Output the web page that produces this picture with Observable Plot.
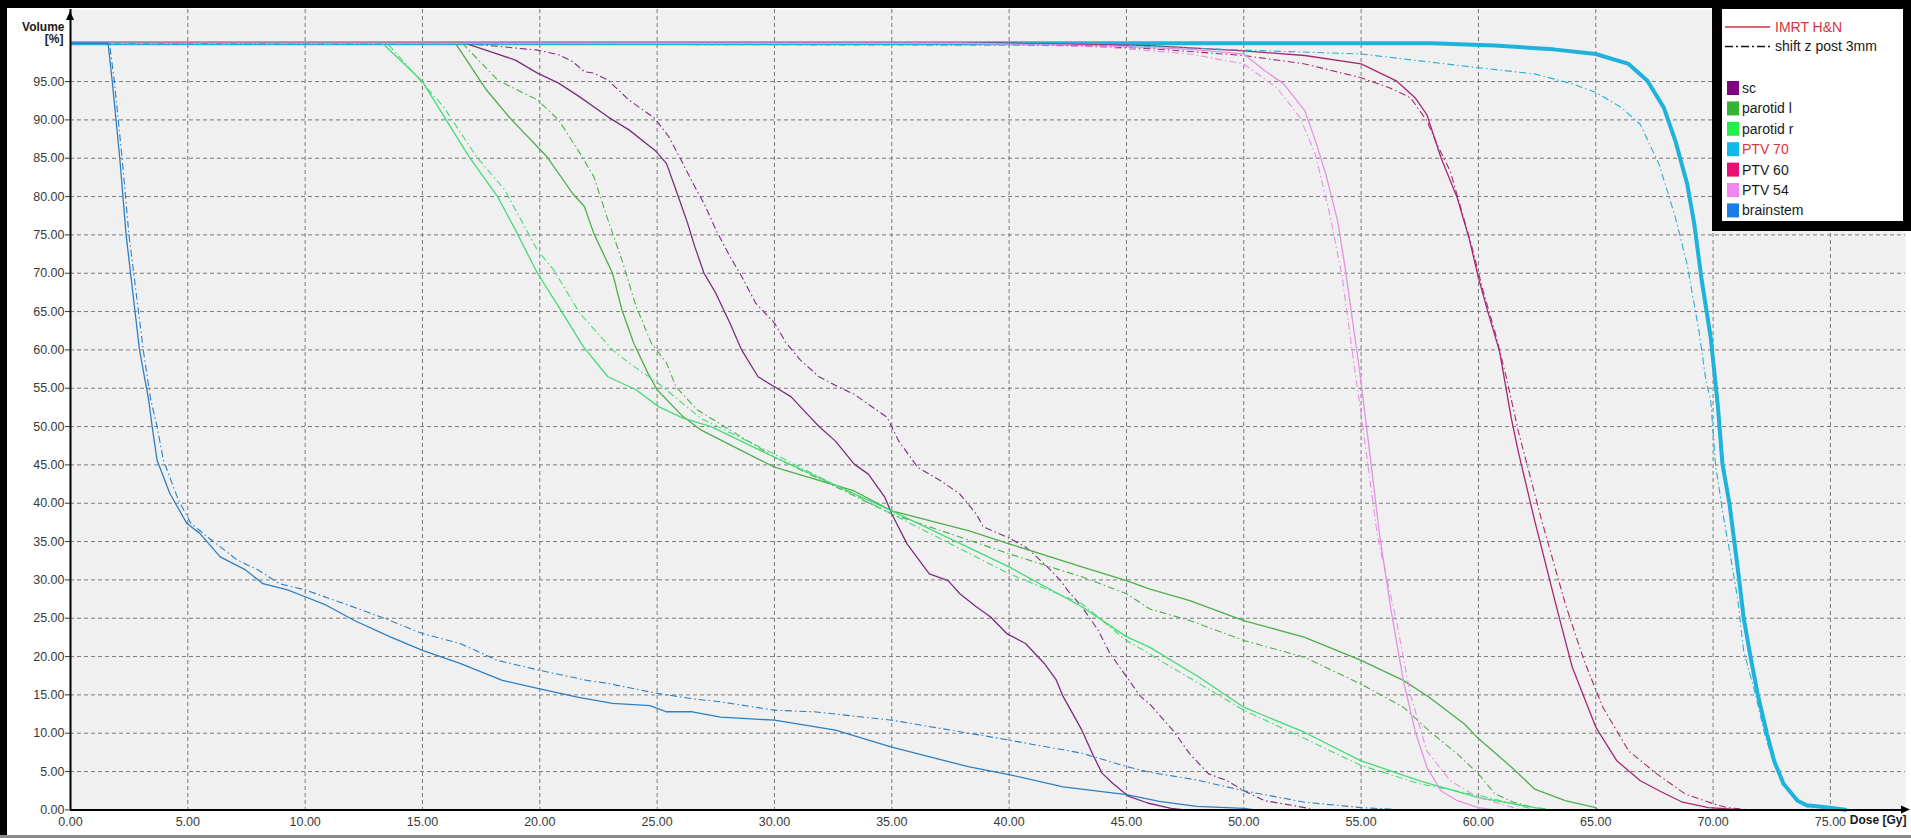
<!DOCTYPE html>
<html><head><meta charset="utf-8">
<script src="https://cdn.jsdelivr.net/npm/d3@7"></script>
<script src="https://cdn.jsdelivr.net/npm/@observablehq/plot@0.6"></script>
<style>
html,body{margin:0;padding:0;background:#fff;}
#chart{width:1911px;height:838px;overflow:hidden;position:relative;}
svg{display:block}
</style></head><body><div id="chart"></div>
<script>
// ---- tick values ----
const doseTicks = [0,5,10,15,20,25,30,35,40,45,50,55,60,65,70,75];
const volumeTicks = [0,5,10,15,20,25,30,35,40,45,50,55,60,65,70,75,80,85,90,95];
const gridDose = [5,10,15,20,25,30,35,40,45,50,55,60,65,70,75];
const gridVolume = [5,10,15,20,25,30,35,40,45,50,55,60,65,70,75,80,85,90,95];

// ---- legend ----
const plans = ["IMRT H&N", "shift z post 3mm"];
const structures = ["sc","parotid l","parotid r","PTV 70","PTV 60","PTV 54","brainstem"];
const legendColors = ["#800080","#33b533","#1ff04a","#12b9ec","#ec0f74","#f286f0","#1a7ce8"];
const lineColors = {"sc":"#7b2d80","parotid l":"#4daf4a","parotid r":"#45da78","PTV 70":"#1fb2dc","PTV 60":"#a8286e","PTV 54":"#e592e3","brainstem":"#2d7fc2"};

// ---- DVH curves [dose Gy, volume %] ----
const brainstem_imrt = [[0,100],[1.6,100],[1.78,95],[2.1,85],[2.37,75],[2.94,60],[3.33,53.5],[3.48,50],[3.69,45.6],[4.23,41.3],[4.95,37.4],[5.5,36.1],[6.38,33],[7.46,31.3],[8.2,29.5],[9.25,28.7],[10,27.8],[10.9,26.7],[12.1,24.7],[13.6,22.6],[15,20.8],[16.6,19.1],[18.4,16.9],[20,15.8],[21.6,14.7],[23.1,13.9],[24.7,13.6],[25.4,12.8],[26.5,12.8],[27.7,12.1],[30,11.7],[32.6,10.4],[35,8.2],[38.3,5.6],[40,4.6],[42.3,3.0],[45,2.0],[46.4,1.1],[48,0.45],[50,0.2],[50.5,0]];
const brainstem_shift = [[0,100],[1.66,100],[1.87,95],[2.2,85],[2.49,75],[3.1,60],[3.42,53.5],[3.69,50],[3.96,45.6],[4.6,40.4],[5.13,37.4],[5.84,35.6],[7.1,32.6],[8.0,31.3],[8.9,29.5],[10,28.7],[11.2,27.4],[13.2,25.2],[15,23],[16.6,21.7],[18.2,19.5],[20,18.2],[22,16.9],[22.9,16.5],[25,15.2],[26.5,14.5],[27.7,14.1],[30,13.0],[31.7,12.8],[35,11.7],[38.3,10.0],[40,9.1],[43.1,7.4],[45,5.65],[46,4.9],[48,3.9],[50,2.5],[52.6,1.0],[55,0.3],[56.8,0]];
const sc_imrt = [[0,100],[16.8,100],[17.7,99.1],[18.96,97.8],[19.9,96.1],[20.8,94.8],[21.7,93],[22.9,90.4],[23.8,88.7],[24.95,85.9],[25.4,84.3],[25.8,80.9],[26.3,76.5],[26.6,73.5],[27.0,70],[27.5,67.4],[28.1,63.5],[28.6,60],[29.3,56.5],[30,55.2],[30.7,53.9],[31.5,51.3],[31.9,50],[32.6,48.1],[33.4,45.1],[34.0,43.8],[34.7,40.8],[35.0,38.6],[35.65,34.7],[36.6,30.8],[37.4,29.9],[37.9,28.2],[38.6,26.5],[39.2,25.2],[39.9,23],[40.7,21.7],[41.5,19.1],[42.0,17],[42.3,14.8],[43.1,10.4],[43.6,7],[43.96,4.8],[44.4,3.5],[45.1,1.75],[45.9,0.9],[46.9,0.2],[47.5,0]];
const sc_shift = [[0,100],[16.8,100],[18.2,99.6],[19.9,99.1],[20.8,98.5],[21.4,97.6],[21.9,96.3],[22.3,96.1],[22.9,95.2],[23.8,92.6],[24.9,90.2],[25.5,87.8],[26.1,84.3],[26.6,81.3],[27.0,79.1],[27.5,75.7],[28.1,72.2],[28.6,69.6],[29.2,66.1],[30.0,63.5],[30.5,60.9],[31.1,58.7],[31.9,56.5],[32.7,55.2],[33.4,54.2],[34.8,51.2],[35.3,48.1],[36.1,44.7],[37.1,42.9],[37.9,41.2],[38.6,38.6],[38.9,36.9],[39.9,35.6],[40.7,34.3],[41.5,32.1],[42.2,29.9],[42.5,28.6],[43.1,26.5],[43.8,23.4],[44.3,20.4],[44.9,17.8],[45.6,14.8],[46,13.8],[47,10.3],[47.7,7.3],[48.5,4.7],[49.3,3.8],[50,2.5],[50.9,1.2],[52.6,0.3],[53,0]];
const parotidL_imrt = [[0,100],[16.4,100],[17.7,94],[18.8,90],[19.9,86.5],[20.3,85.2],[21.4,80.4],[21.9,78.7],[22.3,75.2],[23.1,70],[23.5,65.2],[24.0,60.9],[24.6,57],[25.0,54.8],[26.1,51.3],[26.9,49.5],[30,44.7],[33.4,41.6],[35,39],[38.3,36.4],[40,34.7],[43.1,31.7],[45,29.9],[46,28.8],[47.7,27.3],[50,24.7],[52.6,22.5],[55,19.5],[56.8,16.9],[57.9,14.7],[59.4,11.2],[60,9.3],[61.4,5.6],[62.4,2.7],[63.7,1.2],[65,0.3],[65.1,0]];
const parotidL_shift = [[0,100],[16.7,100],[18.2,95.2],[19.9,92.6],[20.8,90],[21.7,85.7],[22.3,82.6],[22.9,77],[23.5,71.7],[24.1,65.7],[24.75,60.9],[25.4,58.3],[25.8,55.2],[26.7,52.2],[30,46],[35,38.6],[40,33.4],[43.1,30.4],[45,28.2],[46,26.2],[47.7,24.7],[50,22.1],[52.6,19.9],[55,16.4],[56.8,13.4],[57.9,10.3],[59.1,7.3],[60,4.7],[60.7,2.1],[61.5,1.0],[62.4,0.3],[63.2,0]];
const parotidR_imrt = [[0,100],[13.3,100],[15,95],[16.98,85.2],[18.2,80],[18.96,75.65],[19.9,70],[20.8,65.65],[21.86,60.4],[22.9,56.5],[24.1,54.8],[25.06,52.6],[26.1,51.1],[27.3,50],[30,46],[35,39],[40,31.7],[43.1,26.5],[45,22.6],[46,21.2],[48,17.5],[50,13.4],[52.6,10.1],[55,6.4],[57.5,3.8],[60,1.6],[61.5,0.8],[62.4,0.3],[63,0]];
const parotidR_shift = [[0,100],[13.5,100],[15.9,91.7],[17.3,85.2],[18.5,80.9],[19.9,73],[20.6,70.4],[21.7,64.8],[23.1,60],[23.8,58.3],[25.06,55.6],[26.1,53],[26.9,51],[30,46.4],[35,38.6],[40,30.8],[43.1,26.9],[45,22.1],[46,20.3],[50,13],[52.6,9.3],[55,5.8],[57.5,3.4],[60,1.9],[61.5,0.8],[62.4,0]];
const ptv54_imrt = [[0,100],[38,100],[44,99.7],[47.7,99.2],[50,98.6],[50.9,96.4],[51.7,94.7],[52.6,91.2],[53.05,87.3],[53.5,82.9],[54.0,76.8],[54.3,71.1],[54.6,64.6],[54.9,58.1],[55.2,50.8],[55.8,35.6],[56.3,25.6],[56.8,16.9],[57.3,10.3],[57.8,5.6],[58.4,2.5],[59.1,1.2],[60,0.3],[60.7,0]];
const ptv54_shift = [[0,100],[38,100],[44,99.5],[47.7,98.6],[50,97.3],[51.4,94.2],[52.4,90.3],[53.05,85.5],[53.7,77.2],[54.2,69.4],[54.6,60.3],[55.1,49.4],[55.7,35.6],[56.5,24.7],[57.1,15.1],[57.8,7.7],[58.8,3.8],[60,1.6],[61.5,0.3],[62,0]];
const ptv60_imrt = [[0,100],[40,100],[46,99.7],[50,99],[52.6,98.4],[55,97.3],[56.5,95.1],[57.3,92.9],[57.8,90.7],[58.4,85.1],[59.1,79.8],[59.6,74.6],[60,69.4],[60.4,65],[60.9,59.8],[61.4,51.1],[61.7,46.7],[62.4,37.7],[63.4,25.6],[64.0,18.6],[65,10.8],[65.9,6.4],[66.9,3.8],[67.7,2.5],[68.7,1.0],[69.8,0.3],[71.3,0]];
const ptv60_shift = [[0,100],[40,100],[46,99.3],[50,98.4],[52.6,97.3],[55,95.5],[56.2,94.2],[57.1,92.9],[57.8,89.9],[58.3,86.4],[58.8,83.3],[59.25,78.5],[59.7,73.7],[60.2,67.7],[60.7,62.4],[61.2,56.3],[61.7,49.4],[62.7,37.7],[63.7,26.9],[64.5,19.5],[65.3,13.4],[66.4,7.7],[67.6,4.7],[68.8,2.1],[70,0.8],[70.6,0.3],[71.6,0]];
const ptv70_imrt = [[0,100],[58,100],[60.7,99.7],[63.2,99.2],[65,98.6],[66.4,97.3],[67.2,95.1],[67.9,91.6],[68.4,87.2],[68.9,81.6],[69.2,76.4],[69.5,69.4],[69.9,61.6],[70.2,52.8],[70.4,45.1],[70.7,39.9],[70.9,35.1],[71.1,30.3],[71.3,25.1],[71.6,19.9],[71.9,15.1],[72.3,9.9],[72.6,6.4],[73.0,3.4],[73.6,1.2],[74.0,0.6],[74.9,0.3],[75.7,0]];
const ptv70_shift = [[0,100],[45,99.7],[50,99.1],[55,98.6],[57.5,97.7],[60,96.8],[62.4,96],[64,94.7],[65,93.6],[66.1,91.6],[66.9,89.4],[67.7,84.2],[68.4,77.2],[68.9,71.1],[69.4,62.4],[69.7,55.9],[69.9,53.4],[70.1,45.1],[70.4,39],[70.7,33.8],[71.06,27.3],[71.3,20.8],[71.8,15.1],[72.2,9.9],[72.6,6.0],[73.2,2.5],[73.7,0.8],[74.3,0]];

// drawing order
const series = [
  {structure:"PTV 70", plan:plans[0], pts:ptv70_imrt, w:4},
  {structure:"sc", plan:plans[0], pts:sc_imrt},
  {structure:"sc", plan:plans[1], pts:sc_shift},
  {structure:"parotid l", plan:plans[0], pts:parotidL_imrt},
  {structure:"parotid l", plan:plans[1], pts:parotidL_shift},
  {structure:"parotid r", plan:plans[0], pts:parotidR_imrt},
  {structure:"parotid r", plan:plans[1], pts:parotidR_shift},
  {structure:"PTV 60", plan:plans[0], pts:ptv60_imrt},
  {structure:"PTV 60", plan:plans[1], pts:ptv60_shift},
  {structure:"PTV 54", plan:plans[0], pts:ptv54_imrt},
  {structure:"PTV 54", plan:plans[1], pts:ptv54_shift},
  {structure:"PTV 70", plan:plans[1], pts:ptv70_shift},
  {structure:"brainstem", plan:plans[1], pts:brainstem_shift},
  {structure:"brainstem", plan:plans[0], pts:brainstem_imrt}
];

const W = 1911, H = 838;
const mL = 70, mR = 6, mT = 9, mB = 28.6;
const xMax = 78.2, yMax = 104.4;
const dashShift = "7,3,1.5,3";
const font = "'Liberation Sans', Arial, sans-serif";

const lineMarks = series.map(s => Plot.line(s.pts.map(([d,v]) => ({dose:d, volume:v})), {
  x:"dose", y:"volume",
  stroke: lineColors[s.structure],
  strokeWidth: s.w ? s.w : (s.plan === plans[0] ? 1.3 : 1.1),
  strokeDasharray: s.plan === plans[0] ? null : dashShift,
  strokeLinejoin:"round", strokeLinecap: "butt"
}));

const chart = Plot.plot({
  width: W, height: H,
  marginLeft: mL, marginRight: mR, marginTop: mT, marginBottom: mB,
  style: {fontFamily: font, fontSize: "12px", background: "#fff", overflow:"visible"},
  x: {domain:[0, xMax]},
  y: {domain:[0, yMax]},
  marks: [
    Plot.frame({fill:"#f0f0f0", stroke:null}),
    Plot.gridX(gridDose, {stroke:"#7a7a7a", strokeOpacity:1, strokeDasharray:"4,3", strokeWidth:1}),
    Plot.gridY(gridVolume, {stroke:"#7a7a7a", strokeOpacity:1, strokeDasharray:"4,3", strokeWidth:1}),
    ...lineMarks,
    Plot.axisY(volumeTicks, {tickFormat: d => d.toFixed(2), tickSize: 5, tickPadding: 1, fontSize: 12.5, color:"#3a3a3a", label: null}),
    Plot.axisX(doseTicks, {tickFormat: d => d.toFixed(2), tickSize: 0, tickPadding: 7, fontSize: 12.5, color:"#3a3a3a", label: null}),
    Plot.ruleX([0], {stroke:"#000", strokeWidth:2}),
    Plot.ruleY([0], {stroke:"#000", strokeWidth:2}),
    Plot.text(["Volume"], {frameAnchor:"top-left", dx:-6, dy:13, textAnchor:"end", fontWeight:"bold", fontSize:12, fill:"#1a1a1a"}),
    Plot.text(["[%]"], {frameAnchor:"top-left", dx:-7, dy:25, textAnchor:"end", fontWeight:"bold", fontSize:12, fill:"#1a1a1a"}),
    Plot.text(["Dose [Gy]"], {frameAnchor:"bottom-right", dx:1, dy:14, textAnchor:"end", fontWeight:"bold", fontSize:12, fill:"#1a1a1a"})
  ]
});

document.getElementById("chart").appendChild(chart);

// decorations: axis arrows, frame, legend
const svg = d3.select(chart);
const sx = chart.scale("x"), sy = chart.scale("y");
const x0 = sx.apply(0), y0 = sy.apply(0), yTop = sy.apply(yMax), xEnd = sx.apply(xMax);
svg.append("polygon").attr("points", `${x0},${yTop+2} ${x0-4},${yTop+11} ${x0+4},${yTop+11}`).attr("fill","#000");
svg.append("line").attr("x1", xEnd).attr("x2", W-8).attr("y1", y0).attr("y2", y0).attr("stroke","#000").attr("stroke-width",2);
svg.append("polygon").attr("points", `${W-1},${y0} ${W-10},${y0-4} ${W-10},${y0+4}`).attr("fill","#000");

// outer frame
svg.append("rect").attr("x",0).attr("y",0).attr("width",W).attr("height",8).attr("fill","#000");
svg.append("rect").attr("x",0).attr("y",0).attr("width",7).attr("height",H).attr("fill","#000");
svg.append("rect").attr("x",0).attr("y",H-3).attr("width",W).attr("height",3).attr("fill","#8a8a8a");

// legend
const lg = svg.append("g").attr("font-family", font).attr("font-size", 14).attr("text-anchor", "start");
lg.append("rect").attr("x",1712).attr("y",0).attr("width",W-1712).attr("height",231).attr("fill","#000");
lg.append("rect").attr("x",1722).attr("y",9).attr("width",181).attr("height",212).attr("fill","#fff");
const planColors = ["#d8323c", "#1a1a1a"];
plans.forEach((p, i) => {
  const yy = 27 + i*19.5;
  lg.append("line").attr("x1",1725).attr("x2",1770).attr("y1",yy).attr("y2",yy)
    .attr("stroke", i === 0 ? "#c8323c" : "#111").attr("stroke-width", 1.3)
    .attr("stroke-dasharray", i === 0 ? null : "8,3,2,3");
  lg.append("text").attr("x",1775).attr("y",yy).attr("dy","0.35em").attr("text-anchor","start")
    .attr("fill", planColors[i]).text(p);
});
structures.forEach((s, i) => {
  const yy = 88 + i*20.4;
  lg.append("rect").attr("x",1727).attr("y",yy-7).attr("width",12).attr("height",14).attr("fill",legendColors[i]);
  lg.append("text").attr("x",1742).attr("y",yy).attr("dy","0.35em").attr("text-anchor","start")
    .attr("fill", s === "PTV 70" ? "#e0343e" : "#1a1a1a").text(s);
});
</script>
</body></html>
